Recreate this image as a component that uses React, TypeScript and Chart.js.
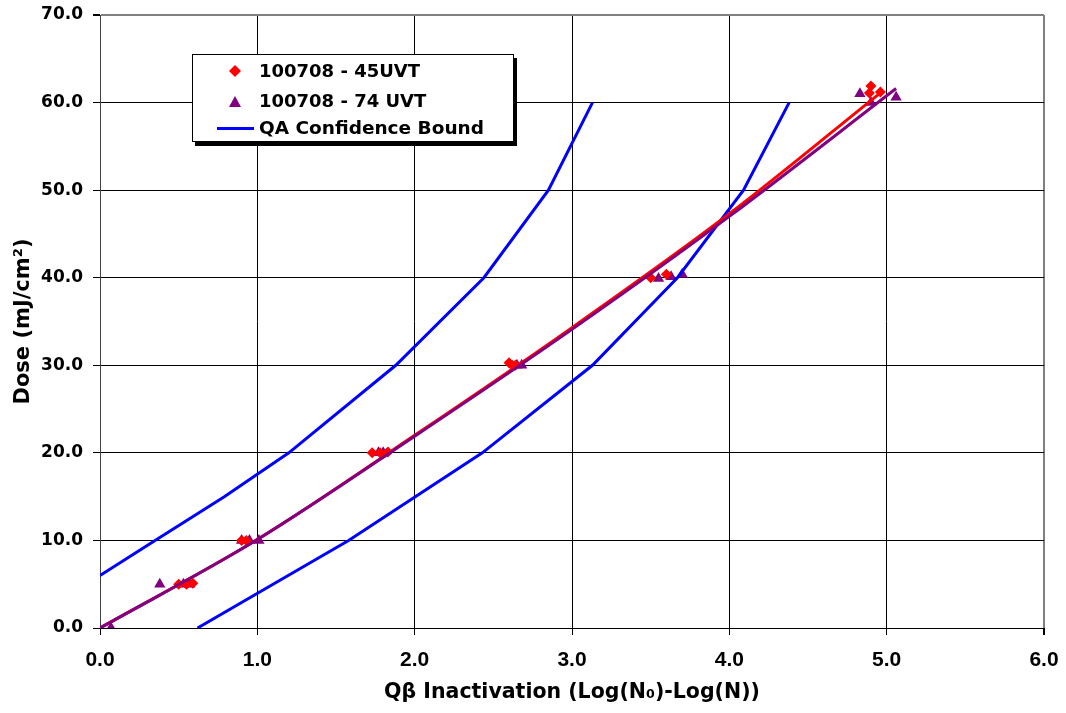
import React, { useEffect, useRef } from "react";
import { Chart, registerables } from "chart.js";

Chart.register(...registerables);

// 100708 - 45UVT measured points
const uvt45X = [0.5, 0.55, 0.59, 0.9, 0.93, 1.73, 1.78, 1.83, 2.6, 2.62, 2.64, 3.5, 3.6, 4.89, 4.9, 4.96];
const uvt45Y = [5, 5, 5.1, 10, 10, 20, 20, 20.1, 30.3, 30, 30, 40, 40.4, 61.1, 61.9, 61.2];

// 100708 - 74 UVT measured points
const uvt74X = [0.07, 0.38, 0.53, 0.57, 0.9, 0.95, 1.01, 1.77, 1.8, 2.65, 2.68, 3.55, 3.63, 3.7, 4.83, 4.9, 5.06];
const uvt74Y = [0, 5, 5, 5, 10, 10, 10, 20, 20, 30, 30, 39.9, 40.1, 40.4, 61.0, 60.0, 60.6];

// Trend lines
const trend45X = [0, 1, 2, 3, 4, 4.98];
const trend45Y = [0, 10.1, 22.0, 34.3, 47.3, 61.4];
const trend74X = [0, 1, 2, 3, 4, 5.06];
const trend74Y = [0, 10.1, 21.9, 34.1, 47.0, 61.6];

// QA confidence bounds
const upperX = [0, 0.35, 0.79, 1.2, 1.88, 2.44, 2.85, 3.13];
const upperY = [6, 10, 15, 20, 30, 40, 50, 60];
const lowerX = [0.62, 1.1, 1.58, 2.43, 3.13, 3.67, 4.09, 4.38];
const lowerY = [0, 5, 10, 20, 30, 40, 50, 60];

const xTicks = [0, 1, 2, 3, 4, 5, 6];
const yTicks = [0, 10, 20, 30, 40, 50, 60, 70];

const legendLabels = ["100708 - 45UVT", "100708 - 74 UVT", "QA Confidence Bound"];

const pts = (xs: number[], ys: number[]) => xs.map((x, i) => ({ x, y: ys[i] }));

const RED = "#FF0000";
const PURPLE = "#800080";
const BLUE = "#0000FF";

export default function App() {
  const ref = useRef<HTMLCanvasElement | null>(null);

  useEffect(() => {
    if (!ref.current) return;
    const chart = new Chart(ref.current, {
      type: "scatter",
      data: {
        datasets: [
          {
            label: "trend74",
            data: pts(trend74X, trend74Y),
            showLine: true,
            borderColor: PURPLE,
            borderWidth: 3,
            pointRadius: 0,
            cubicInterpolationMode: "monotone",
          },
          {
            label: "trend45",
            data: pts(trend45X, trend45Y),
            showLine: true,
            borderColor: RED,
            borderWidth: 3,
            pointRadius: 0,
            cubicInterpolationMode: "monotone",
          },
          {
            label: "upper",
            data: pts(upperX, upperY),
            showLine: true,
            borderColor: BLUE,
            borderWidth: 3,
            pointRadius: 0,
            tension: 0,
          },
          {
            label: "lower",
            data: pts(lowerX, lowerY),
            showLine: true,
            borderColor: BLUE,
            borderWidth: 3,
            pointRadius: 0,
            tension: 0,
          },
          {
            label: legendLabels[0],
            data: pts(uvt45X, uvt45Y),
            pointStyle: "rectRot",
            pointRadius: 5.5,
            backgroundColor: RED,
            borderColor: RED,
            borderWidth: 0,
          },
          {
            label: legendLabels[1],
            data: pts(uvt74X, uvt74Y),
            pointStyle: "triangle",
            pointRadius: 6.5,
            backgroundColor: PURPLE,
            borderColor: PURPLE,
            borderWidth: 0,
          },
        ],
      },
      options: {
        animation: false,
        responsive: false,
        events: [],
        layout: { padding: { top: 15, right: 22, left: 0, bottom: 0 } },
        plugins: { legend: { display: false }, tooltip: { enabled: false } },
        scales: {
          x: {
            type: "linear",
            min: 0,
            max: 6,
            afterBuildTicks: (s: any) => {
              s.ticks = xTicks.map((v) => ({ value: v }));
            },
            afterFit: (s: any) => {
              s.height = 85;
              s.paddingLeft = 0;
              s.paddingRight = 0;
            },
            ticks: {
              color: "#000",
              padding: 13,
              font: { family: "'Liberation Sans', Arial, sans-serif", size: 21, weight: "bold" },
              callback: (v: any) => Number(v).toFixed(1),
              maxRotation: 0,
            },
            grid: {
              color: (c: any) => (c.tick && c.tick.value === 6 ? "#808080" : "#000"),
              lineWidth: (c: any) => (c.tick && c.tick.value === 6 ? 2 : 1),
              tickColor: "#000",
              tickLength: 7,
            },
            border: { color: "#000", width: 1 },
            title: {
              display: true,
              text: "Q\u03B2 Inactivation (Log(N\u2080)-Log(N))",
              color: "#000",
              font: { family: "'DejaVu Sans', sans-serif", size: 20.5, weight: "bold" },
              padding: { top: 0, bottom: 8 },
            },
          },
          y: {
            type: "linear",
            min: 0,
            max: 70,
            afterBuildTicks: (s: any) => {
              s.ticks = yTicks.map((v) => ({ value: v }));
            },
            afterFit: (s: any) => {
              s.width = 100;
              s.paddingTop = 0;
              s.paddingBottom = 0;
            },
            ticks: {
              color: "#000",
              padding: 10,
              font: { family: "'DejaVu Sans', sans-serif", size: 17, weight: "bold" },
              callback: (v: any) => Number(v).toFixed(1),
            },
            grid: {
              color: (c: any) => (c.tick && c.tick.value === 70 ? "#808080" : "#000"),
              lineWidth: (c: any) => (c.tick && c.tick.value === 70 ? 2 : 1),
              tickColor: "#000",
              tickLength: 7,
            },
            border: { color: "#404040", width: 1 },
            title: {
              display: true,
              text: "Dose (mJ/cm\u00B2)",
              color: "#000",
              font: { family: "'DejaVu Sans', sans-serif", size: 21, weight: "bold" },
              padding: { top: 11, bottom: 0 },
            },
          },
        },
      },
    });
    return () => chart.destroy();
  }, []);

  const textStyle: React.CSSProperties = {
    position: "absolute",
    left: 66,
    fontFamily: "'DejaVu Sans', sans-serif",
    fontWeight: "bold",
    fontSize: 18,
    lineHeight: "20px",
    color: "#000",
    whiteSpace: "nowrap",
  };

  return (
    <div style={{ position: "absolute", left: 0, top: 0, width: 1066, height: 713, background: "#fff" }}>
      <canvas ref={ref} width={1066} height={713} style={{ display: "block" }} />
      <div
        style={{
          position: "absolute",
          left: 192,
          top: 54,
          width: 320,
          height: 86,
          background: "#fff",
          border: "1px solid #000",
          boxShadow: "3px 4px 0 #000",
        }}
      >
        <svg style={{ position: "absolute", left: 36, top: 10 }} width={12} height={12}>
          <polygon points="6,0 12,6 6,12 0,6" fill={RED} />
        </svg>
        <div style={{ ...textStyle, top: 6 }}>{legendLabels[0]}</div>
        <svg style={{ position: "absolute", left: 36, top: 41 }} width={12} height={11}>
          <polygon points="6,0 12,11 0,11" fill={PURPLE} />
        </svg>
        <div style={{ ...textStyle, top: 36 }}>{legendLabels[1]}</div>
        <div style={{ position: "absolute", left: 24, top: 72, width: 37, height: 3, background: BLUE }} />
        <div style={{ ...textStyle, top: 63, fontSize: 18.5 }}>{legendLabels[2]}</div>
      </div>
    </div>
  );
}
